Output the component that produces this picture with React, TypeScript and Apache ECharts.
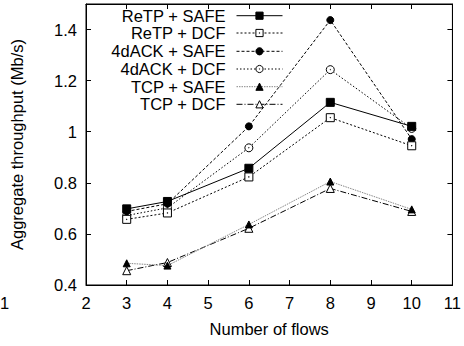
import React, { useEffect, useRef } from "react";
import * as echarts from "echarts";

const flows = [3, 4, 6, 8, 10];
const retpSafe = [0.698, 0.727, 0.857, 1.115, 1.021];
const retpDcf = [0.657, 0.682, 0.823, 1.055, 0.945];
const dackSafe = [0.688, 0.718, 1.021, 1.437, 0.971];
const dackDcf = [0.672, 0.702, 0.937, 1.243, 1.013];
const tcpSafe = [0.485, 0.476, 0.637, 0.805, 0.696];
const tcpDcf = [0.456, 0.488, 0.622, 0.778, 0.688];

const seriesNames = ["ReTP + SAFE", "ReTP + DCF", "4dACK + SAFE", "4dACK + DCF", "TCP + SAFE", "TCP + DCF"];
const yTicks = [0.4, 0.6, 0.8, 1, 1.2, 1.4];
const xTicks = [2, 3, 4, 5, 6, 7, 8, 9, 10, 11];

const FONT = "Liberation Sans";
const FS = 16.5;

const SQ_DOT = "path://M0,0 L16,0 L16,16 L0,16 Z M7.5,7.5 L8.5,7.5 L8.5,8.5 L7.5,8.5 Z";
const CI_DOT =
  "path://M8,0 A8,8 0 1,1 7.99,0 Z M8,7.5 A0.5,0.5 0 1,1 7.99,7.5 Z";

export default function App() {
  const ref = useRef<HTMLDivElement>(null);
  useEffect(() => {
    if (!ref.current) return;
    const chart = echarts.init(ref.current, null, { renderer: "svg" });
    const values = [retpSafe, retpDcf, dackSafe, dackDcf, tcpSafe, tcpDcf];
    const styles = [
      { symbol: "rect", color: "#000", fill: "#000", type: "solid" as any, size: 8 },
      { symbol: SQ_DOT, color: "#000", fill: "#fff", type: [2, 2], size: 8 },
      { symbol: "circle", color: "#000", fill: "#000", type: [3, 2], size: 7 },
      { symbol: CI_DOT, color: "#000", fill: "#fff", type: [1.5, 2], size: 8 },
      { symbol: "triangle", color: "#888", fill: "#000", type: [1.5, 1], size: 7 },
      { symbol: "triangle", color: "#000", fill: "#fff", type: [6, 2, 1, 2], size: 8 },
    ];
    const series = values.map((v, i) => ({
      name: seriesNames[i],
      type: "line",
      data: flows.map((f, j) => [f, v[j]]),
      symbol: styles[i].symbol,
      symbolSize: styles[i].size,
      lineStyle: { color: styles[i].color, width: 1, type: styles[i].type },
      itemStyle: { color: styles[i].fill, borderColor: "#000", borderWidth: 1 },
      z: 10 - i,
    }));
    const rowY = [16.7, 34, 52.3, 70, 87.7, 105.3];
    const legends = seriesNames.map((n, i) => ({
      data: [n],
      orient: "vertical",
      align: "right",
      right: 181,
      top: rowY[i] - 9.5,
      padding: 0,
      itemWidth: 46,
      itemHeight: 9,
      selectedMode: false,
      lineStyle: { width: 1 },
      itemStyle: { borderWidth: 1 },
      formatter: (name: string) => "{t|" + name + "}",
      textStyle: {
        fontFamily: FONT,
        fontSize: FS,
        color: "#000",
        rich: { t: { fontFamily: FONT, fontSize: FS, color: "#000", padding: [0, 6, 0, 0] } },
      },
    }));
    const baseAxisText = { fontFamily: FONT, fontSize: FS, color: "#000" };
    chart.setOption({
      animation: false,
      legend: legends,
      grid: { left: 86, right: 10, top: 4, bottom: 61, show: true, borderColor: "#000", borderWidth: 1 },
      xAxis: [
        {
          type: "value", min: 2, max: 11, interval: 1,
          name: "Number of flows", nameLocation: "middle", nameGap: 35,
          nameTextStyle: baseAxisText,
          axisLine: { show: true, lineStyle: { color: "#000", width: 1 } },
          axisTick: { inside: true, length: 5, lineStyle: { color: "#000" }, customValues: xTicks },
          axisLabel: { ...baseAxisText, margin: 9, customValues: xTicks },
          splitLine: { show: false },
        },
        {
          type: "value", min: 2, max: 11, interval: 1, position: "top",
          axisLine: { show: true, lineStyle: { color: "#000", width: 1 } },
          axisTick: { inside: true, length: 5, lineStyle: { color: "#000" }, customValues: xTicks },
          axisLabel: { show: false },
          splitLine: { show: false },
        },
      ],
      yAxis: [
        {
          type: "value", min: 0.4, max: 1.5, interval: 0.2,
          name: "Aggregate throughput (Mb/s)", nameLocation: "middle", nameGap: 61,
          nameTextStyle: baseAxisText,
          axisLine: { show: true, lineStyle: { color: "#000", width: 1 } },
          axisTick: { inside: true, length: 5, lineStyle: { color: "#000" }, customValues: yTicks },
          axisLabel: { ...baseAxisText, margin: 9, customValues: yTicks },
          splitLine: { show: false },
        },
        {
          type: "value", min: 0.4, max: 1.5, interval: 0.2, position: "right",
          axisLine: { show: true, lineStyle: { color: "#000", width: 1 } },
          axisTick: { inside: true, length: 5, lineStyle: { color: "#000" }, customValues: yTicks },
          axisLabel: { show: false },
          splitLine: { show: false },
        },
      ],
      graphic: [
        { type: "text", left: 0, top: 294, style: { text: "1", fontFamily: FONT, fontSize: FS, fill: "#000" } },
      ],
      series,
    });
    return () => chart.dispose();
  }, []);
  return <div ref={ref} style={{ width: 464, height: 346, position: "absolute", left: 0, top: 0 }} />;
}
